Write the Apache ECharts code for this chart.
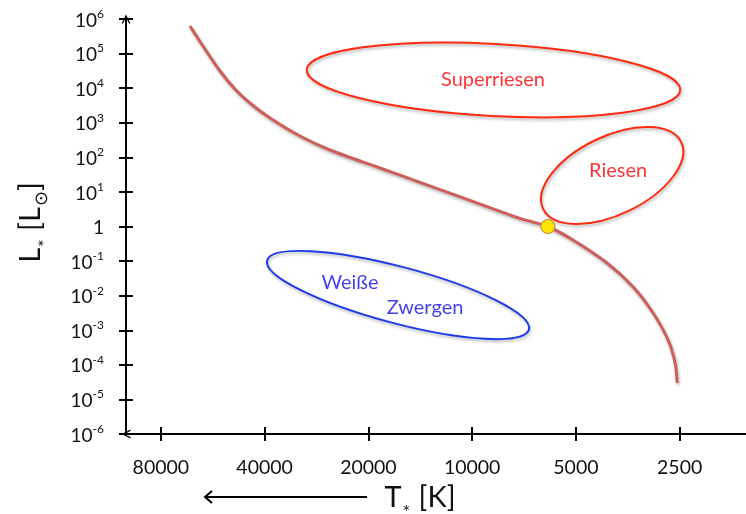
<!DOCTYPE html>
<html>
<head>
<meta charset="utf-8">
<script src="https://cdn.jsdelivr.net/npm/echarts@6/dist/echarts.min.js"></script>
<style>html,body{margin:0;padding:0;background:#fff;}#chart{width:746px;height:514px;}</style>
</head>
<body>
<div id="chart"></div>
<script>
// Main sequence: temperature [K] and luminosity [L_sun]
const seqTemps = [65900, 59600, 53900, 48800, 44150, 38600, 31600, 25860, 18520, 14170, 10150, 7270, 6030, 5100, 4060, 3410, 2985, 2700, 2577, 2542];
const seqLums  = [6.28e5, 1.36e5, 3.14e4, 9470, 3730, 1373, 414, 163, 49.2, 18.8, 5.69, 1.71, 1, 0.407, 0.088, 0.0178, 3.16e-3, 5.2e-4, 1.13e-4, 3.0e-5];
// Sun
const sunTemp = 6030;
const sunLum = 1;
// Regions (ellipses): centre T, centre L, half-width [octaves], half-height [decades], tilt [deg]
const regionNames  = ['Superriesen', 'Riesen', 'Weiße Zwergen'];
const regionTemps  = [8670, 3925, 16410];
const regionLums   = [1.73e4, 29.9, 0.01045];
const regionHalfW  = [1.803, 0.739, 1.305];
const regionHalfH  = [1.041, 1.131, 0.818];
const regionTilt   = [-3.1, 25.8, -14.8];
const regionColors = ['#ff2a10', '#ff2a10', '#1d3be8'];
// Region labels
const labelTexts  = ['Superriesen', 'Riesen', 'Weiße', 'Zwergen'];
const labelTemps  = [8700, 3772, 22620, 13700];
const labelLums   = [1.73e4, 40.3, 0.0232, 0.0044];
const labelColors = ['#ff0000', '#ff0000', '#1010e8', '#1010e8'];
// Axis ticks
const tempTicks = [80000, 40000, 20000, 10000, 5000, 2500];
const tempMin = 1605, tempMax = 101000;
const lumMin = 1e-6, lumMax = 1e6;

const L2 = Math.log2;
const FONT = 'Lato';

const chevron = 'path://M0,10L5,0L10,10L8.4,10L5,3.2L1.6,10Z';

const xCommon = {
  type: 'value', inverse: true, position: 'bottom',
  min: L2(tempMin), max: L2(tempMax),
  splitLine: {show: false}
};
const yCommon = {
  type: 'log', logBase: 10, min: lumMin, max: lumMax, position: 'left',
  interval: 1, splitNumber: 12,
  splitLine: {show: false}
};

function expOf(v) { return Math.round(Math.log10(v)); }

const option = {
  animation: false,
  backgroundColor: '#fff',
  grid: {left: 126, right: 0, top: 19, bottom: 80, containLabel: false, outerBoundsMode: 'none'},
  xAxis: [
    Object.assign({}, xCommon, {
      axisLine: {show: true, onZero: false, symbol: [chevron, 'none'], symbolSize: [11, 9], lineStyle: {color: '#000', width: 2}},
      axisTick: {show: true, inside: false, length: 7, customValues: tempTicks.map(L2), lineStyle: {color: '#000', width: 2}},
      axisLabel: {show: true, margin: 24, customValues: tempTicks.map(L2), color: '#111', fontFamily: FONT, fontSize: 19.5,
        formatter: v => String(Math.round(Math.pow(2, v)))},
      name: '{t|T}{s|*}{t| [K]}', nameLocation: 'middle', nameGap: 49,
      nameTextStyle: {padding: [0, 32, 0, 0], rich: {
        t: {fontSize: 29, fontFamily: FONT, color: '#111', lineHeight: 34, verticalAlign: 'top'},
        s: {fontSize: 18, fontFamily: FONT, color: '#111', lineHeight: 18, padding: [20, 1, 0, 1], verticalAlign: 'top'}
      }}
    }),
    Object.assign({}, xCommon, {
      axisLine: {show: false, onZero: false},
      axisTick: {show: true, inside: true, length: 7, customValues: tempTicks.map(L2), lineStyle: {color: '#000', width: 2}},
      axisLabel: {show: false}
    })
  ],
  yAxis: [
    Object.assign({}, yCommon, {
      axisLine: {show: true, onZero: false, symbol: ['none', chevron], symbolSize: [11, 9], lineStyle: {color: '#000', width: 2}},
      axisTick: {show: true, inside: false, length: 7, lineStyle: {color: '#000', width: 2},
        interval: (i, v) => expOf(v) < 6},
      axisLabel: {show: true, margin: 22, align: 'right',
        formatter: v => { const e = expOf(v); return e === 0 ? '{b|1}' : '{b|10}{s|' + e + '}'; },
        rich: {
          b: {fontSize: 19, fontFamily: FONT, color: '#111', lineHeight: 22, verticalAlign: 'bottom'},
          s: {fontSize: 12, fontFamily: FONT, color: '#111', lineHeight: 12, padding: [0, 0, 10, 0], verticalAlign: 'bottom'}
        }},
      name: '{t|L}{s|*}{t| [L}{o|⊙}{t|]}', nameLocation: 'middle', nameRotate: 90, nameGap: 76,
      nameTextStyle: {padding: [0, 0, 0, 8], rich: {
        t: {fontSize: 29, fontFamily: FONT, color: '#111', lineHeight: 34, verticalAlign: 'top'},
        s: {fontSize: 18, fontFamily: FONT, color: '#111', lineHeight: 18, padding: [20, 1, 0, 1], verticalAlign: 'top'},
        o: {fontSize: 18, fontFamily: 'DejaVu Sans', color: '#111', lineHeight: 18, padding: [17, 0, 0, 1], verticalAlign: 'top'}
      }}
    }),
    Object.assign({}, yCommon, {
      axisLine: {show: false, onZero: false},
      axisTick: {show: true, inside: true, length: 7, lineStyle: {color: '#000', width: 2},
        interval: (i, v) => { const e = expOf(v); return e > -6 && e < 6; }},
      axisLabel: {show: false}
    })
  ],
  graphic: [
    {type: 'line', shape: {x1: 205, y1: 497, x2: 367, y2: 497}, style: {stroke: '#000', lineWidth: 2}},
    {type: 'polyline', shape: {points: [[212, 491], [205, 497], [212, 503]]}, style: {stroke: '#000', lineWidth: 2, fill: null}}
  ],
  series: [
    {
      type: 'custom', xAxisIndex: 0, yAxisIndex: 0, silent: true, clip: false,
      data: regionNames.map((n, i) => [L2(regionTemps[i]), regionLums[i], regionHalfW[i], regionHalfH[i], regionTilt[i], i]),
      renderItem: (params, api) => {
        const x = api.value(0), lum = api.value(1);
        const c = api.coord([x, lum]);
        const pa = api.coord([x + api.value(2), lum]);
        const pb = api.coord([x, lum * Math.pow(10, api.value(3))]);
        const rx = Math.abs(c[0] - pa[0]);
        const ry = Math.abs(c[1] - pb[1]);
        const idx = api.value(5);
        return {
          type: 'ellipse', x: c[0], y: c[1], rotation: api.value(4) * Math.PI / 180,
          shape: {cx: 0, cy: 0, rx: rx, ry: ry},
          style: {fill: null, stroke: regionColors[idx], lineWidth: 2,
            shadowColor: 'rgba(0,0,0,0.3)', shadowBlur: 3, shadowOffsetX: 1, shadowOffsetY: 2}
        };
      }
    },
    {
      type: 'line', xAxisIndex: 0, yAxisIndex: 0, smooth: 0.3, showSymbol: false, silent: true,
      data: seqTemps.map((t, i) => [L2(t), seqLums[i]]),
      lineStyle: {color: '#cc5f59', width: 3, shadowColor: 'rgba(0,0,0,0.3)', shadowBlur: 3, shadowOffsetX: 1, shadowOffsetY: 2}
    },
    {
      type: 'scatter', xAxisIndex: 0, yAxisIndex: 0, silent: true,
      data: [[L2(sunTemp), sunLum]],
      symbolSize: 14, z: 5,
      itemStyle: {color: '#ffe600', borderColor: '#c98a3a', borderWidth: 1.2, opacity: 1}
    },
    {
      type: 'scatter', xAxisIndex: 0, yAxisIndex: 0, silent: true, symbolSize: 0,
      data: labelTexts.map((s, i) => ({name: s, value: [L2(labelTemps[i]), labelLums[i]],
        label: {color: labelColors[i]}})),
      label: {show: true, position: 'inside', formatter: p => p.name, fontFamily: FONT, fontSize: 20}
    }
  ]
};

const chart = echarts.init(document.getElementById('chart'), null, {renderer: 'canvas'});
chart.setOption(option);
</script>
</body>
</html>
